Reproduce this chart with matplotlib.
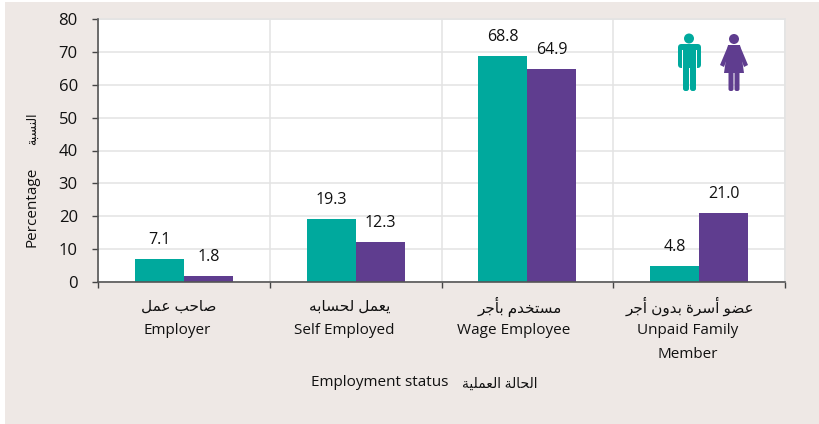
import matplotlib
matplotlib.use('Agg')
import matplotlib.pyplot as plt
import numpy as np
from matplotlib.patches import Circle, FancyBboxPatch, Polygon, Rectangle

# data
arabic_status = ['صاحب عمل', 'يعمل لحسابه', 'مستخدم بأجر', 'عضو أسرة بدون أجر']
english_status = [['Employer'], ['Self Employed'], ['Wage Employee'], ['Unpaid Family', 'Member']]
male = [7.1, 19.3, 68.8, 4.8]
female = [1.8, 12.3, 64.9, 21.0]
y_ticks = [0, 10, 20, 30, 40, 50, 60, 70, 80]

TEAL = '#00A99D'
PURPLE = '#5F3D8F'
BEIGE = '#EEE8E5'
INK = '#111111'
W, H = 819, 424

# isolated, final, initial, medial
FORMS = {
    'ا': 'ﺍﺎﺍﺎ', 'أ': 'ﺃﺄﺃﺄ', 'د': 'ﺩﺪﺩﺪ', 'ر': 'ﺭﺮﺭﺮ', 'و': 'ﻭﻮﻭﻮ', 'ة': 'ﺓﺔﺓﺔ',
    'ب': 'ﺏﺐﺑﺒ', 'ج': 'ﺝﺞﺟﺠ', 'ح': 'ﺡﺢﺣﺤ', 'خ': 'ﺥﺦﺧﺨ', 'س': 'ﺱﺲﺳﺴ', 'ص': 'ﺹﺺﺻﺼ',
    'ض': 'ﺽﺾﺿﻀ', 'ع': 'ﻉﻊﻋﻌ', 'ت': 'ﺕﺖﺗﺘ', 'ل': 'ﻝﻞﻟﻠ', 'م': 'ﻡﻢﻣﻤ', 'ن': 'ﻥﻦﻧﻨ',
    'ه': 'ﻩﻪﻫﻬ', 'ي': 'ﻱﻲﻳﻴ',
}
NO_LEFT_JOIN = 'اأدروة'


def shape(text):
    # matplotlib does no arabic shaping, so pick the joined forms by hand
    out = []
    for i, c in enumerate(text):
        if c not in FORMS:
            out.append(c)
            continue
        prev = text[i - 1] if i > 0 else ' '
        nxt = text[i + 1] if i < len(text) - 1 else ' '
        join_prev = prev in FORMS and prev not in NO_LEFT_JOIN
        join_next = nxt in FORMS and c not in NO_LEFT_JOIN
        out.append(FORMS[c][2 * join_next + join_prev])
    return ''.join(reversed(out))


plt.rcParams['font.family'] = ['Open Sans', 'DejaVu Sans']
fig = plt.figure(figsize=(W / 100, H / 100), dpi=100, facecolor='white')


def fx(x):
    return x / W


def fy(y):
    return 1 - y / H


fig.patches.append(Rectangle((fx(5), 0), 1 - fx(5), fy(2), transform=fig.transFigure,
                             facecolor=BEIGE, edgecolor='none', zorder=-5))

ax = fig.add_axes([fx(98), fy(282), fx(785 - 98), fy(19) - fy(282)])
ax.set_facecolor('white')

x = np.arange(len(male))
bw = 0.285
ax.bar(x - bw / 2, male, bw, color=TEAL, zorder=3)
ax.bar(x + bw / 2, female, bw, color=PURPLE, zorder=3)

for xs, vals in ((x - bw / 2, male), (x + bw / 2, female)):
    for xi, v in zip(xs, vals):
        ax.annotate(f'{v:.1f}', (xi, v), xytext=(0, 13.5), textcoords='offset points',
                    ha='center', va='center', fontsize=11.5, color=INK, zorder=4)

ax.set_xlim(-0.5, 3.5)
ax.set_ylim(0, 80)
ax.set_yticks(y_ticks)
ax.set_xticks(np.arange(-0.5, 4))
ax.set_xticklabels([])
ax.tick_params(axis='y', labelsize=12, length=4.5, width=1, color='#444444', pad=10, labelcolor=INK)
ax.tick_params(axis='x', length=4.5, width=1, color='#444444')
ax.grid(True, color='#E3E3E3', linewidth=1.1, zorder=0)
ax.set_axisbelow(True)
for s in ('top', 'right'):
    ax.spines[s].set_color('#E3E3E3')
    ax.spines[s].set_linewidth(1.1)
for s in ('left', 'bottom'):
    ax.spines[s].set_color('#555555')
    ax.spines[s].set_linewidth(1.2)
    ax.spines[s].set_zorder(5)

# category labels, two languages on separate lines
arabic_x = [179, 350, 520, 690]
english_x = [177, 344, 514, 688]
for a, lines, a_px, e_px in zip(arabic_status, english_status, arabic_x, english_x):
    fig.text(fx(a_px), fy(307), shape(a), ha='center', va='center', fontsize=11, color=INK)
    for n, line in enumerate(lines):
        fig.text(fx(e_px), fy(331 + 23 * n), line, ha='center', va='center', fontsize=11, color=INK)

fig.text(fx(380), fy(383), 'Employment status', ha='center', va='center', fontsize=11, color=INK)
fig.text(fx(500), fy(384), shape('الحالة العملية'), ha='center', va='center', fontsize=10, color=INK)
fig.text(fx(32), fy(207), 'Percentage', rotation=90, ha='center', va='center', fontsize=11, color=INK)
fig.text(fx(32), fy(129), shape('النسبة'), rotation=90, ha='center', va='center', fontsize=9, color=INK)

# the two person icons, drawn in pixel space on a see-through layer
over = fig.add_axes([0, 0, 1, 1], facecolor='none', zorder=10)
over.set_xlim(0, W)
over.set_ylim(H, 0)
over.axis('off')


def rounded(x0, y0, w, h, r, color):
    over.add_patch(FancyBboxPatch((x0 + r, y0 + r), w - 2 * r, h - 2 * r,
                                  boxstyle=f'round,pad={r}', facecolor=color, edgecolor='none'))


# man
over.add_patch(Circle((689, 38.5), 5, color=TEAL, lw=0))
rounded(678, 44, 23, 24, 3.5, TEAL)
rounded(683, 62, 6, 29, 2.5, TEAL)
rounded(690, 62, 6, 29, 2.5, TEAL)
over.add_patch(Rectangle((682.3, 50), 0.7, 18, color='white', lw=0))
over.add_patch(Rectangle((696, 50), 0.7, 18, color='white', lw=0))

# woman
over.add_patch(Circle((734, 39), 5, color=PURPLE, lw=0))
over.add_patch(Polygon([(728, 45), (740, 45), (744, 73), (724, 73)], color=PURPLE, lw=0))
over.add_patch(Polygon([(728, 46), (731, 48), (724, 67), (720, 65)], color=PURPLE, lw=0))
over.add_patch(Polygon([(740, 46), (737, 48), (744, 67), (748, 65)], color=PURPLE, lw=0))
rounded(728.5, 70, 5, 21, 2, PURPLE)
rounded(734.5, 70, 5, 21, 2, PURPLE)

fig.savefig('out.png', dpi=100, facecolor=fig.get_facecolor())
